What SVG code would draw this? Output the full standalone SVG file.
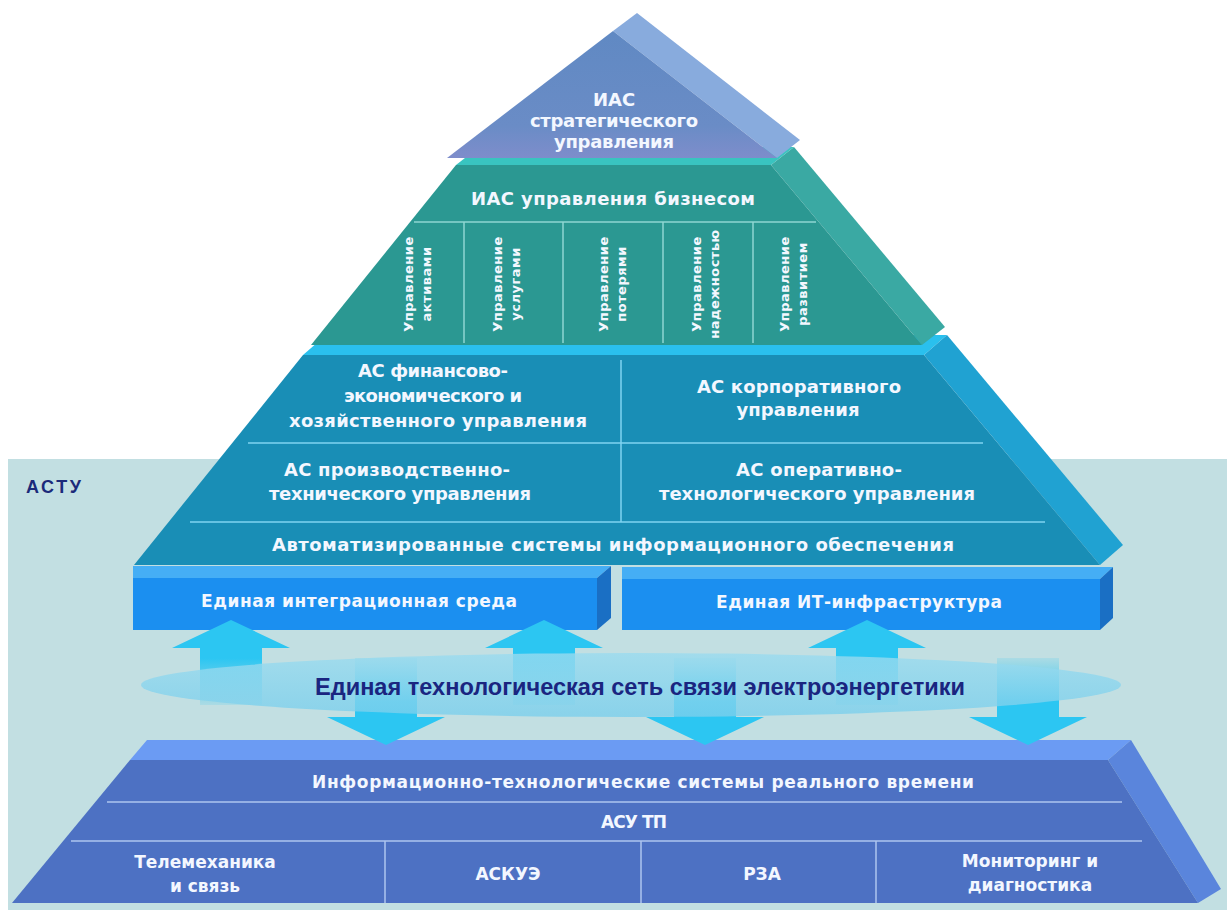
<svg xmlns="http://www.w3.org/2000/svg" width="1227" height="912" viewBox="0 0 1227 912">
<defs>
<linearGradient id="g1" x1="0" y1="0" x2="0" y2="1">
<stop offset="0" stop-color="#6089c3"/><stop offset="0.75" stop-color="#6a8cc6"/><stop offset="1" stop-color="#7e8dcb"/>
</linearGradient>
<linearGradient id="gUp" x1="0" y1="0" x2="0" y2="1">
<stop offset="0" stop-color="#2cc6f2"/><stop offset="0.45" stop-color="#2cc6f2"/><stop offset="1" stop-color="#2cc6f2" stop-opacity="0.15"/>
</linearGradient>
<linearGradient id="gDown" x1="0" y1="1" x2="0" y2="0">
<stop offset="0" stop-color="#2cc6f2"/><stop offset="0.5" stop-color="#2cc6f2"/><stop offset="1" stop-color="#2cc6f2" stop-opacity="0.15"/>
</linearGradient>
<linearGradient id="gEl" x1="0" y1="0" x2="0" y2="1">
<stop offset="0" stop-color="#9adbef"/><stop offset="1" stop-color="#7bcfec"/>
</linearGradient>
</defs>
<style>
.t{font-family:"DejaVu Sans",Verdana,sans-serif;font-weight:bold;fill:#f3f7ff;text-anchor:middle;font-size:18px}
.b{font-family:"DejaVu Sans",Verdana,sans-serif;font-weight:bold;fill:#f3f7ff;text-anchor:middle;font-size:17px}
.v{font-family:"DejaVu Sans",Verdana,sans-serif;font-weight:bold;fill:#f3f7ff;text-anchor:middle;font-size:13px;letter-spacing:0.5px}
.ln2{stroke:#8fd6d2;stroke-width:1.5;fill:none}
.ln3{stroke:#7fd3f1;stroke-width:1.5;fill:none}
.lnb{stroke:#aec6ef;stroke-width:1.5;fill:none}
</style>
<rect x="0" y="0" width="1227" height="912" fill="#ffffff"/>
<rect id="band" x="8" y="459" width="1219" height="451" fill="#c2dfe2"/>
<text x="26" y="493" font-family="Liberation Sans,Arial,sans-serif" font-weight="bold" font-size="18" fill="#1b2a7a" textLength="55">АСТУ</text>

<g id="tier-realtime">
<polygon points="130,760 1108,760 1131,740 147,740" fill="#6b9bf3"/>
<polygon points="1108,760 1198,903 1221,889 1131,740" fill="#5a85dc"/>
<polygon points="130,760 1108,760 1198,903 12,903" fill="#4d71c3"/>
<line class="lnb" x1="107" y1="802" x2="1122" y2="802"/>
<line class="lnb" x1="71" y1="841" x2="1142" y2="841"/>
<line class="lnb" x1="385" y1="841" x2="385" y2="903"/>
<line class="lnb" x1="641" y1="841" x2="641" y2="903"/>
<line class="lnb" x1="876" y1="841" x2="876" y2="903"/>
<text class="b" x="643" y="788" textLength="662">Информационно-технологические системы реального времени</text>
<text class="b" x="634" y="828" textLength="66">АСУ ТП</text>
<text class="b" x="205" y="868">Телемеханика</text>
<text class="b" x="205" y="892">и связь</text>
<text class="b" x="508" y="880">АСКУЭ</text>
<text class="b" x="762" y="880">РЗА</text>
<text class="b" x="1030" y="867">Мониторинг и</text>
<text class="b" x="1030" y="891">диагностика</text>
</g>

<g id="tier-as">
<polygon points="303,355 924,355 947,335 326,335" fill="#2ac0ee"/>
<polygon points="924,355 1100,565 1123,545 947,335" fill="#20a2d2"/>
<polygon points="303,355 924,355 1100,565 134,565" fill="#198eb6"/>
<line class="ln3" x1="248" y1="443" x2="983" y2="443"/>
<line class="ln3" x1="190" y1="522" x2="1045" y2="522"/>
<line class="ln3" x1="621" y1="360" x2="621" y2="522"/>
<text class="t" x="433" y="377" textLength="150">АС финансово-</text>
<text class="t" x="433" y="402" textLength="178">экономического и</text>
<text class="t" x="438" y="427" textLength="298">хозяйственного управления</text>
<text class="t" x="799" y="393" textLength="204">АС корпоративного</text>
<text class="t" x="798" y="416" textLength="123">управления</text>
<text class="t" x="397" y="476" textLength="226">АС производственно-</text>
<text class="t" x="400" y="500" textLength="262">технического управления</text>
<text class="t" x="819" y="476" textLength="166">АС оперативно-</text>
<text class="t" x="817" y="500" textLength="316">технологического управления</text>
<text class="t" x="613" y="551" textLength="682">Автоматизированные системы информационного обеспечения</text>
</g>

<g id="tier-business">
<polygon points="456,165 771,165 794,147 479,147" fill="#39c4c0"/>
<polygon points="771,165 922,345 945,327 794,147" fill="#3aa9a3"/>
<polygon points="456,165 771,165 922,345 311,345" fill="#2b9892"/>
<line class="ln2" x1="414" y1="222" x2="816" y2="222"/>
<line class="ln2" x1="464" y1="222" x2="464" y2="343"/>
<line class="ln2" x1="563" y1="222" x2="563" y2="343"/>
<line class="ln2" x1="663" y1="222" x2="663" y2="343"/>
<line class="ln2" x1="753" y1="222" x2="753" y2="343"/>
<text class="t" x="613" y="205" textLength="284">ИАС управления бизнесом</text>
<text class="v" transform="translate(413,284) rotate(-90)">Управление</text>
<text class="v" transform="translate(431,284) rotate(-90)">активами</text>
<text class="v" transform="translate(502,284) rotate(-90)">Управление</text>
<text class="v" transform="translate(520,284) rotate(-90)">услугами</text>
<text class="v" transform="translate(608,284) rotate(-90)">Управление</text>
<text class="v" transform="translate(626,284) rotate(-90)">потерями</text>
<text class="v" transform="translate(701,284) rotate(-90)">Управление</text>
<text class="v" transform="translate(719,284) rotate(-90)">надежностью</text>
<text class="v" transform="translate(789,284) rotate(-90)">Управление</text>
<text class="v" transform="translate(807,284) rotate(-90)">развитием</text>
</g>

<g id="tier-strategic">
<polygon points="637,13 800,140 777,158 613,31" fill="#88abdd"/>
<polygon points="613,31 777,158 447,158" fill="url(#g1)"/>
<text class="t" x="614" y="106">ИАС</text>
<text class="t" x="614" y="127" textLength="168">стратегического</text>
<text class="t" x="614" y="148" textLength="120">управления</text>
</g>

<g id="box-integration">
<polygon points="133,566 611,566 597,578 133,578" fill="#45aef5"/>
<polygon points="597,578 611,566 611,618 597,630" fill="#1a6fc4"/>
<rect x="133" y="578" width="464" height="52" fill="#1b8ff0"/>
<text class="b" x="359" y="607" textLength="316">Единая интеграционная среда</text>
</g>

<g id="box-it">
<polygon points="622,567 1113,567 1100,579 622,579" fill="#45aef5"/>
<polygon points="1100,579 1113,567 1113,618 1100,630" fill="#1a6fc4"/>
<rect x="622" y="579" width="478" height="51" fill="#1b8ff0"/>
<text class="b" x="859" y="608" textLength="286">Единая ИТ-инфраструктура</text>
</g>

<g id="connectors">
<path d="M231,620 L290,648 L262,648 L262,705 L200,705 L200,648 L172,648 Z" fill="url(#gUp)"/>
<path d="M544,620 L603,648 L575,648 L575,705 L513,705 L513,648 L485,648 Z" fill="url(#gUp)"/>
<path d="M867,620 L926,648 L898,648 L898,705 L836,705 L836,648 L808,648 Z" fill="url(#gUp)"/>
<path d="M355,658 L417,658 L417,717 L445,717 L386,745 L327,717 L355,717 Z" fill="url(#gDown)"/>
<path d="M674,658 L736,658 L736,717 L764,717 L705,745 L646,717 L674,717 Z" fill="url(#gDown)"/>
<path d="M997,658 L1059,658 L1059,717 L1087,717 L1028,745 L969,717 L997,717 Z" fill="url(#gDown)"/>
</g>

<g id="network">
<ellipse cx="631" cy="685" rx="490" ry="32" fill="url(#gEl)" opacity="0.8"/>
<text x="640" y="695" font-family="Liberation Sans,Arial,sans-serif" font-weight="bold" font-size="23" fill="#1a2580" text-anchor="middle" textLength="650" lengthAdjust="spacingAndGlyphs">Единая технологическая сеть связи электроэнергетики</text>
</g>
</svg>
